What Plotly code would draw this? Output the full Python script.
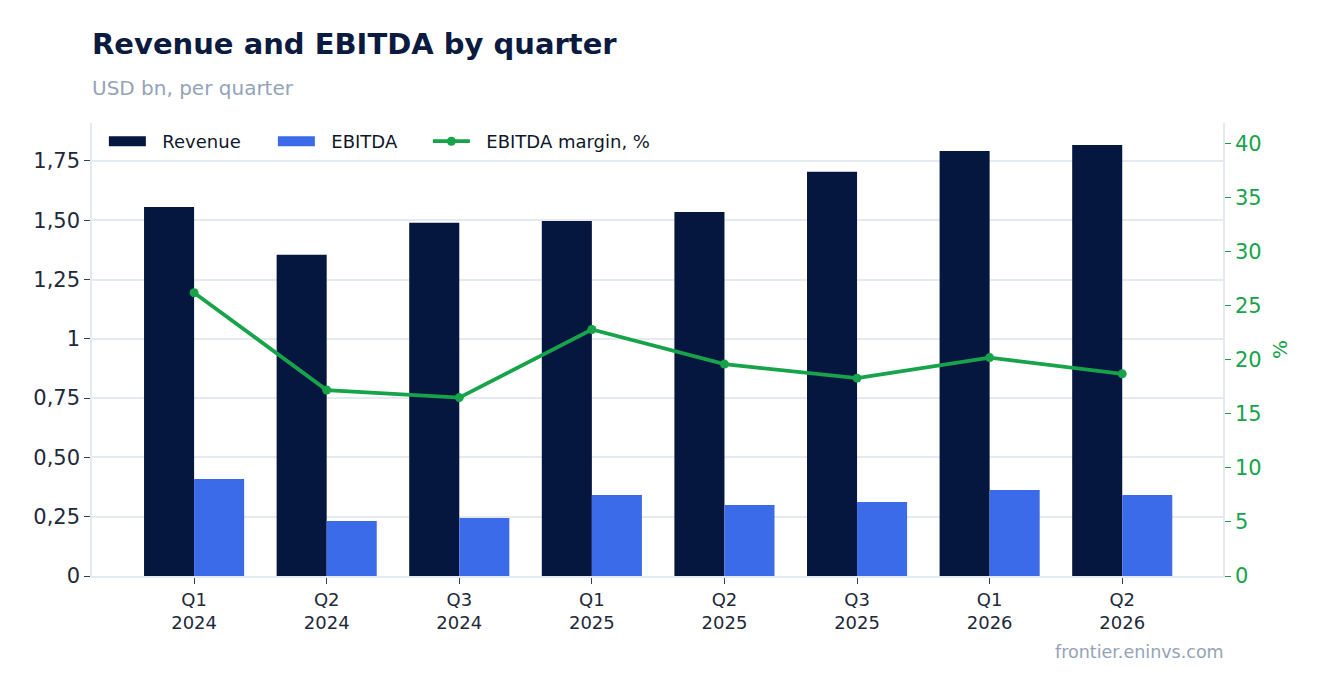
import plotly.graph_objects as go

quarters = ['Q1<br>2024', 'Q2<br>2024', 'Q3<br>2024', 'Q1<br>2025',
            'Q2<br>2025', 'Q3<br>2025', 'Q1<br>2026', 'Q2<br>2026']
revenue = [1.556, 1.354, 1.489, 1.497, 1.535, 1.704, 1.792, 1.817]
ebitda = [0.409, 0.232, 0.245, 0.342, 0.299, 0.312, 0.363, 0.342]
margin = [26.2, 17.2, 16.5, 22.8, 19.6, 18.3, 20.2, 18.7]

left_vals = [0, 0.25, 0.5, 0.75, 1, 1.25, 1.5, 1.75]
left_text = ['0', '0,25', '0,50', '0,75', '1', '1,25', '1,50', '1,75']

navy = '#05163F'
blue = '#3B6BE8'
green = '#16A34A'
grid = '#E5E9F0'
pad = '\u00a0\u00a0'

fig = go.Figure()
fig.add_trace(go.Bar(x=quarters, y=revenue, name='Revenue', marker_color=navy,
                     marker_line_width=0, showlegend=False))
fig.add_trace(go.Bar(x=quarters, y=ebitda, name='EBITDA', marker_color=blue,
                     marker_line_width=0, showlegend=False))
# legend keys as wide rectangles
fig.add_trace(go.Scatter(x=[None], y=[None], name=pad + 'Revenue', mode='lines',
                         line=dict(color=navy, width=14), legendwidth=117))
fig.add_trace(go.Scatter(x=[None], y=[None], name=pad + 'EBITDA', mode='lines',
                         line=dict(color=blue, width=14), legendwidth=103))
fig.add_trace(go.Scatter(x=quarters, y=margin, name=pad + 'EBITDA margin, %', yaxis='y2',
                         mode='lines+markers',
                         line=dict(color=green, width=3.8),
                         marker=dict(color=green, size=9)))

fig.update_layout(
    width=1323, height=693,
    margin=dict(l=84, r=108, t=115, b=125),
    paper_bgcolor='white', plot_bgcolor='white',
    font=dict(family='DejaVu Sans', color='#0F172A'),
    barmode='group', bargap=0.245, bargroupgap=0,
    title=dict(text='<b>Revenue and EBITDA by quarter</b>', x=84 / 1323, xanchor='left',
               y=1 - 36 / 693, yanchor='middle',
               font=dict(size=29, color='#0B1A3F')),
    legend=dict(orientation='h', x=0.0105, y=1.0, xanchor='left', yanchor='top',
                font=dict(size=18, color='#0F172A'), bgcolor='rgba(0,0,0,0)',
                itemwidth=37, tracegroupgap=0),
    xaxis=dict(range=[-0.77, 7.76], showgrid=False, showline=True, linecolor=grid,
               linewidth=2, ticks='outside', ticklen=6, tickcolor='#334155',
               tickfont=dict(size=18, color='#1E293B')),
    yaxis=dict(range=[0, 1.91], tickvals=left_vals, ticktext=left_text,
               showgrid=True, gridcolor=grid, gridwidth=1.5, zeroline=False,
               showline=True, linecolor=grid, linewidth=1.5,
               ticks='outside', ticklen=6, tickcolor='#334155',
               tickfont=dict(size=21, color='#1E293B')),
    yaxis2=dict(range=[0, 41.9], overlaying='y', side='right', showgrid=False,
                zeroline=False, showline=True, linecolor=grid, linewidth=1.5,
                tickvals=[0, 5, 10, 15, 20, 25, 30, 35, 40],
                ticks='outside', ticklen=6, tickcolor=green,
                tickfont=dict(size=21, color=green),
                title=dict(text='%', font=dict(size=20, color=green), standoff=12)),
)

fig.add_annotation(text='USD bn, per quarter', xref='paper', yref='paper',
                   x=-0.002, y=1 + (123 - 88) / 453, xanchor='left', yanchor='middle',
                   showarrow=False, font=dict(size=20, color='#94A3B8'))
fig.add_annotation(text='frontier.eninvs.com', xref='paper', yref='paper',
                   x=1.003, y=-(652 - 576) / 453, xanchor='right', yanchor='middle',
                   showarrow=False, font=dict(size=17.5, color='#94A3B8'))

fig.write_html('out.html')
